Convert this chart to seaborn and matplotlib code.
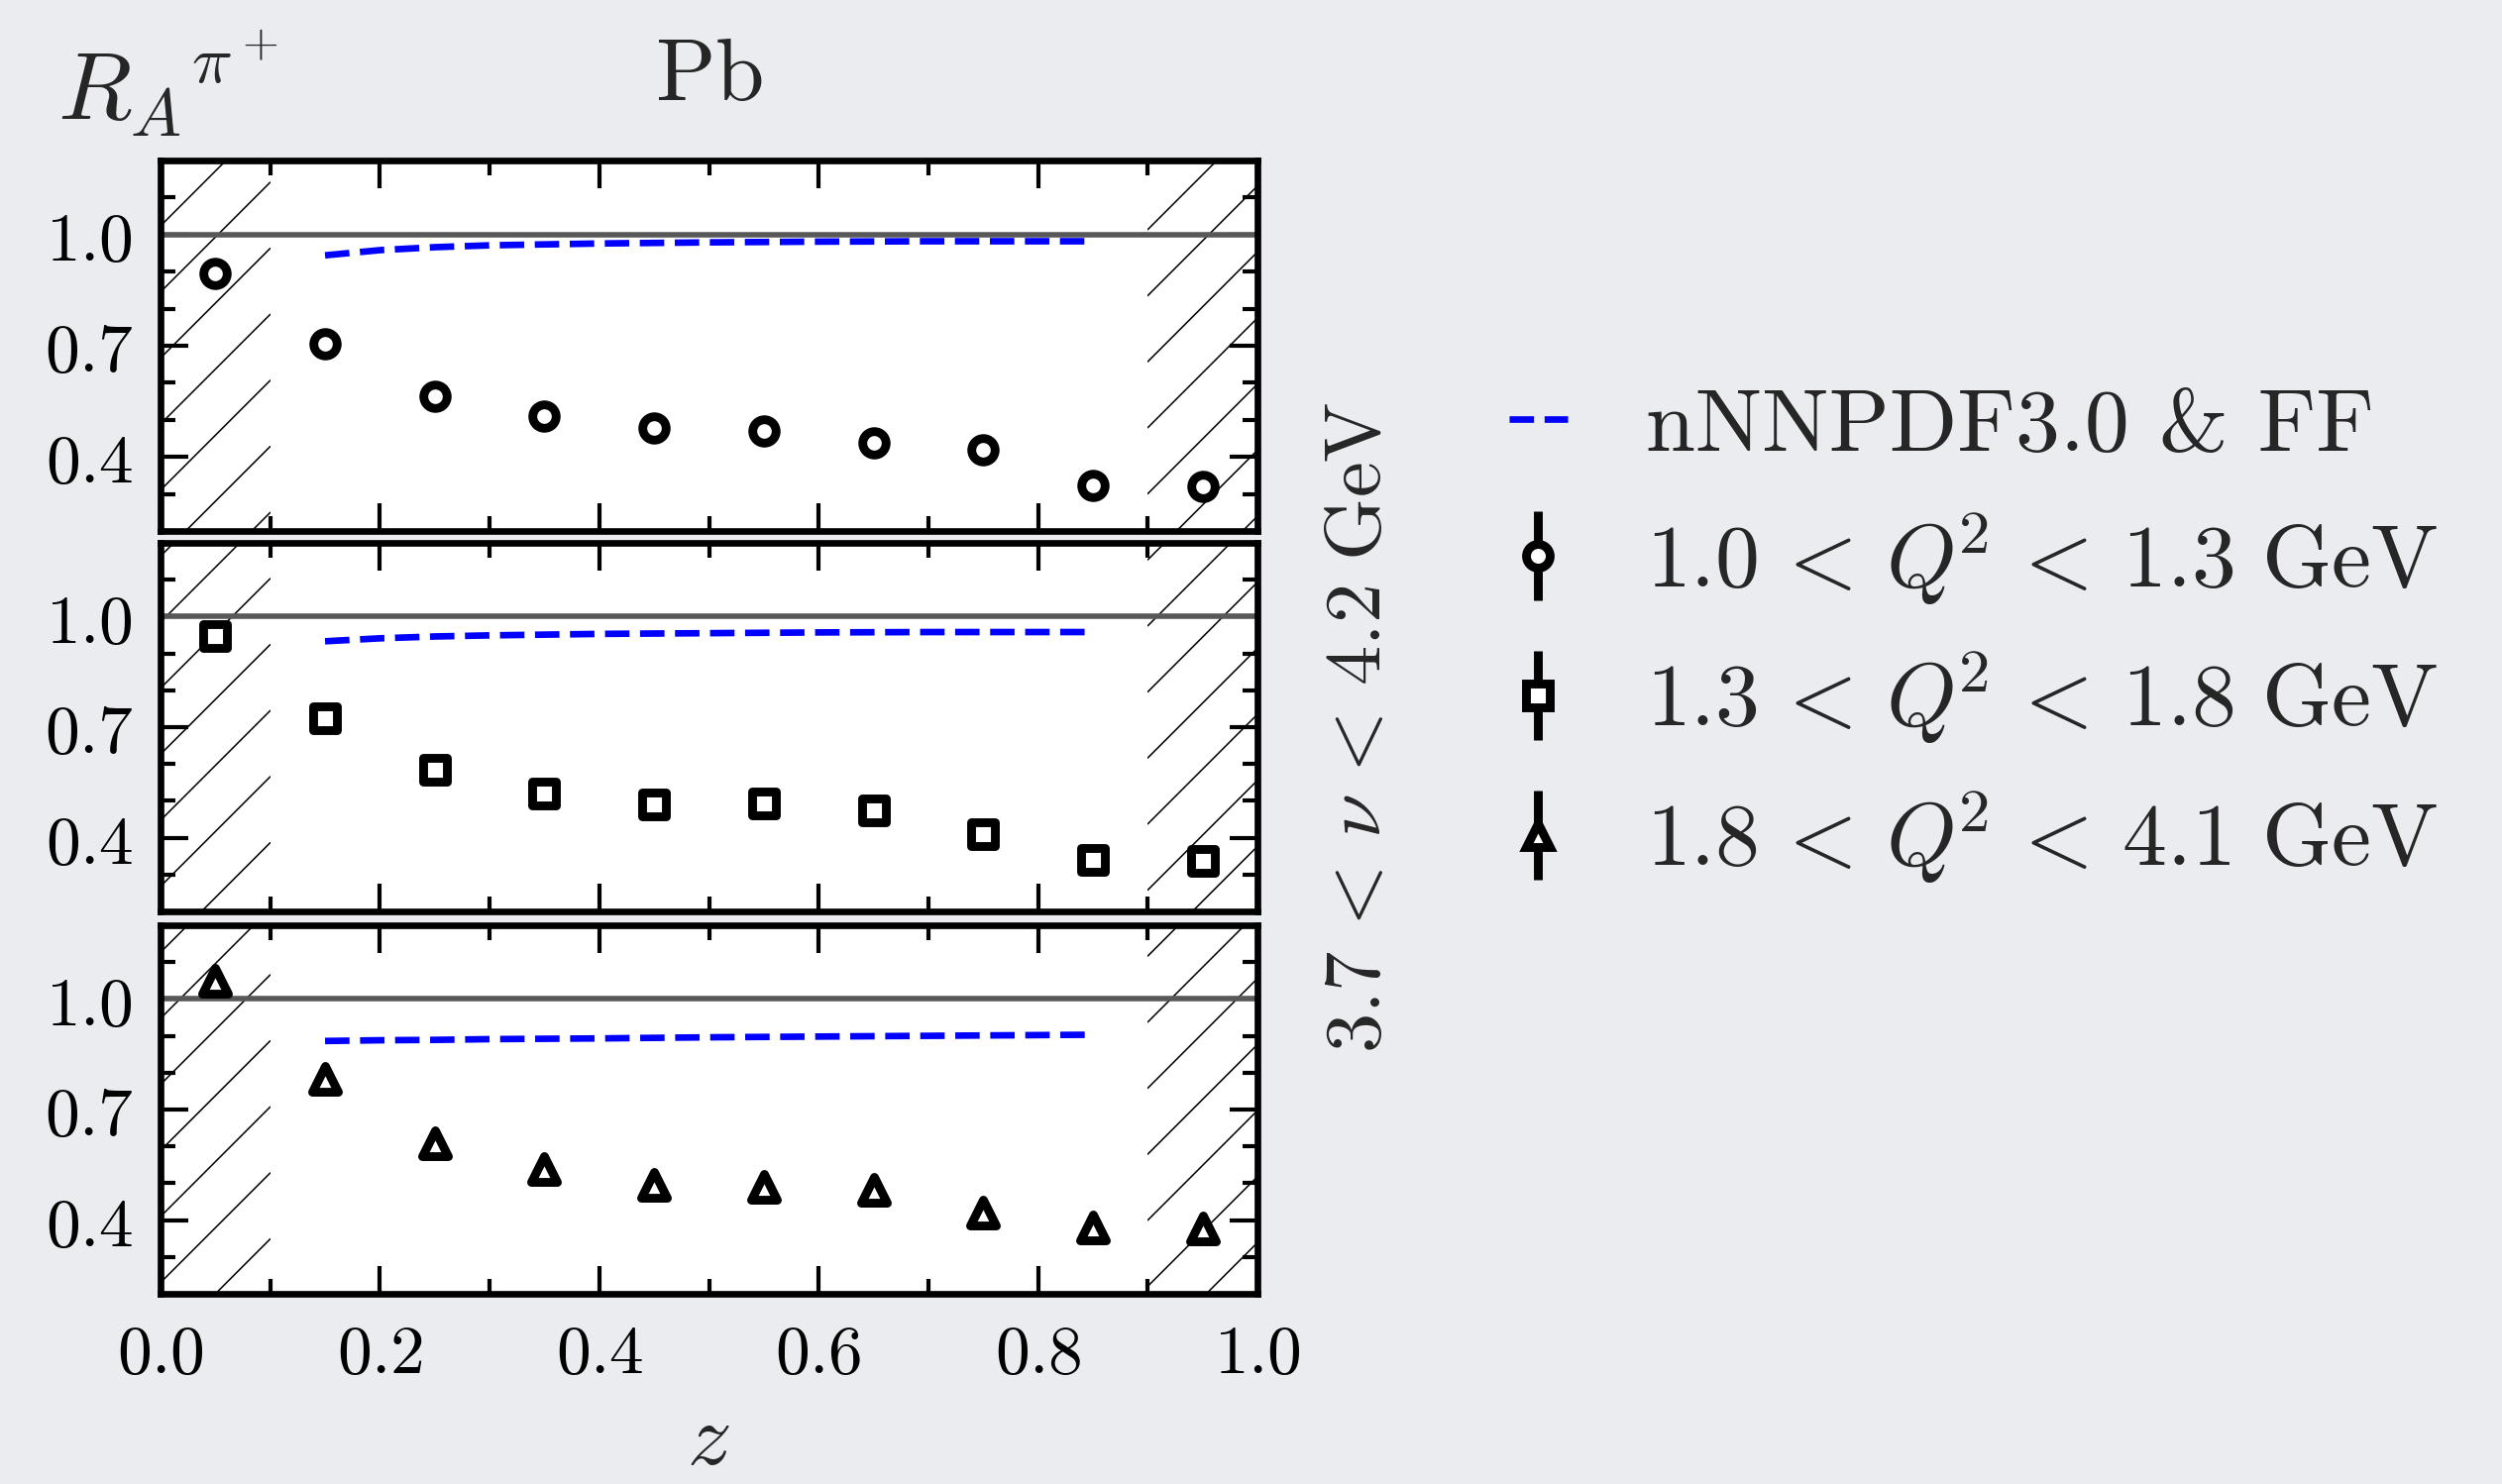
import math
import numpy as np
import pandas as pd
import matplotlib
matplotlib.use("Agg")
import matplotlib.pyplot as plt
import seaborn as sns
from matplotlib.lines import Line2D
from matplotlib.patches import Rectangle
from matplotlib.collections import LineCollection
from matplotlib.container import ErrorbarContainer
from matplotlib.legend_handler import HandlerErrorbar
from matplotlib.ticker import MultipleLocator, FixedLocator, FuncFormatter

# ---- data -------------------------------------------------------------
z_bins = [0.05, 0.15, 0.25, 0.35, 0.45, 0.55, 0.65, 0.75, 0.85, 0.95]
ra_q2_low = [0.894, 0.705, 0.563, 0.510, 0.478, 0.469, 0.438, 0.419, 0.324, 0.320]
ra_q2_mid = [0.946, 0.724, 0.584, 0.521, 0.490, 0.494, 0.474, 0.409, 0.339, 0.337]
ra_q2_high = [1.050, 0.782, 0.609, 0.539, 0.496, 0.489, 0.482, 0.420, 0.380, 0.377]

z_theory = [0.15, 0.20, 0.25, 0.30, 0.40, 0.50, 0.60, 0.70, 0.80, 0.85]
th_q2_low = [0.944, 0.958, 0.966, 0.971, 0.976, 0.979, 0.981, 0.982, 0.982, 0.982]
th_q2_mid = [0.933, 0.941, 0.946, 0.949, 0.953, 0.955, 0.957, 0.958, 0.958, 0.958]
th_q2_high = [0.886, 0.888, 0.889, 0.891, 0.893, 0.896, 0.898, 0.900, 0.902, 0.903]

theory_label = "nNNPDF3.0 & FF"
q2_labels = [r"$1.0\,<\,Q^{\!2}\,<\,1.3\ \mathrm{GeV}$",
             r"$1.3\,<\,Q^{\!2}\,<\,1.8\ \mathrm{GeV}$",
             r"$1.8\,<\,Q^{\!2}\,<\,4.1\ \mathrm{GeV}$"]
nu_label = r"$3.7\,<\,\nu\,<\,4.2\ \mathrm{GeV}$"
markers = ["o", "s", "^"]
x_ticks = [0.0, 0.2, 0.4, 0.6, 0.8, 1.0]
y_ticks = [0.4, 0.7, 1.0]
excluded_z = [(0.0, 0.1), (0.9, 1.0)]

# ---- style ------------------------------------------------------------
sns.set_theme(style="ticks")
bg = "#EAECEF"
plt.rcParams.update({
    "mathtext.fontset": "cm",
    "font.family": ["DejaVu Serif"],
    "axes.linewidth": 1.2,
    "axes.edgecolor": "black",
    "axes.facecolor": "white",
    "figure.facecolor": bg,
    "xtick.direction": "in", "ytick.direction": "in",
    "xtick.top": True, "ytick.right": True,
    "xtick.major.size": 5.0, "ytick.major.size": 5.0,
    "xtick.minor.size": 2.7, "ytick.minor.size": 2.7,
    "xtick.major.width": 0.75, "ytick.major.width": 0.75,
    "xtick.minor.width": 0.75, "ytick.minor.width": 0.75,
    "xtick.color": "black", "ytick.color": "black",
    "xtick.major.pad": 5, "ytick.major.pad": 5,
})

DPI = 400
W, H = 2525.0, 1498.0
fig = plt.figure(figsize=(W / DPI, H / DPI), dpi=DPI)

left, right = 162 / W, 1269 / W
panel_px = [(162, 536), (548, 920), (934, 1306)]
axes = [fig.add_axes([left, 1 - b / H, right - left, (b - t) / H]) for t, b in panel_px]

series = [ra_q2_low, ra_q2_mid, ra_q2_high]
theory = [th_q2_low, th_q2_mid, th_q2_high]
fmt = FuncFormatter(lambda v, pos: rf"${v:.1f}$")

HATCH_STEP = DPI / 6.0   # pixel spacing of the diagonal hatch lines
HATCH_PHASE = 56.7       # fixes the pattern to the canvas


def hatch_band(ax, lo, hi):
    """Thin 45-degree lines filling the excluded z band [lo, hi]."""
    y_lo, y_hi = ax.get_ylim()
    tr = ax.transData
    x0, yb = tr.transform((lo, y_lo))
    x1, yt = tr.transform((hi, y_hi))
    cmin, cmax = x0 + H - yt, x1 + H - yb
    k0 = math.ceil((cmin - HATCH_PHASE) / HATCH_STEP)
    k1 = math.floor((cmax - HATCH_PHASE) / HATCH_STEP)
    clip = Rectangle((lo, y_lo), hi - lo, y_hi - y_lo, transform=ax.transData)
    inv = tr.inverted()
    for k in range(k0, k1 + 1):
        c = HATCH_PHASE + k * HATCH_STEP
        pts = inv.transform([(x0, x0 + H - c), (x1, x1 + H - c)])
        ln, = ax.plot(pts[:, 0], pts[:, 1], color="black", lw=0.28, zorder=1)
        ln.set_clip_path(clip)


for i, ax in enumerate(axes):
    ax.set_xlim(0.0, 1.0)
    ax.set_ylim(0.2, 1.2)
    for lo, hi in excluded_z:
        hatch_band(ax, lo, hi)
    ax.axhline(1.0, color="#585858", lw=1.0, zorder=2)

    sns.lineplot(x=z_theory, y=theory[i], ax=ax, color="#0000FF",
                 linestyle="--", lw=1.2, zorder=3)
    sns.scatterplot(x=z_bins, y=series[i], ax=ax, marker=markers[i],
                    s=18 if markers[i] != "^" else 22,
                    color="white", edgecolor="black", linewidth=1.6,
                    zorder=5, clip_on=False)

    ax.set_xlim(0.0, 1.0)
    ax.set_ylim(0.2, 1.2)
    ax.xaxis.set_major_locator(FixedLocator(x_ticks))
    ax.xaxis.set_minor_locator(MultipleLocator(0.1))
    ax.yaxis.set_major_locator(FixedLocator(y_ticks))
    ax.yaxis.set_minor_locator(MultipleLocator(0.1))
    ax.yaxis.set_major_formatter(fmt)
    ax.tick_params(axis="both", which="major", labelsize=12.5)
    ax.set_xlabel("")
    ax.set_ylabel("")
    for sp in ax.spines.values():
        sp.set_visible(True)
        sp.set_zorder(6)
    if i < 2:
        ax.tick_params(axis="x", labelbottom=False)
    else:
        ax.xaxis.set_major_formatter(fmt)

axes[0].set_title(r"$\mathrm{Pb}$", fontsize=16, pad=11)
fig.text(58 / W, 1 - 121 / H, r"$R_A{}^{\pi^+}$", fontsize=17.5,
         ha="left", va="baseline")
fig.text(715 / W, 1 - 1497 / H, r"$z$", fontsize=16, ha="center", va="bottom")
fig.text(1371 / W, 1 - 734 / H, nu_label,
         fontsize=14.5, rotation=90, ha="center", va="center")

# ---- legend -----------------------------------------------------------
handles = [Line2D([], [], color="#0000FF", linestyle="--", lw=1.2)]
for m in markers:
    mk = Line2D([], [], marker=m, ms=4.3, mfc="white", mec="black", mew=1.6,
                ls="none", color="black")
    bars = LineCollection([], colors="black", linewidths=1.6)
    handles.append(ErrorbarContainer((mk, (), (bars,)), has_xerr=False, has_yerr=True))
labels = [theory_label] + q2_labels

fig.legend(handles, labels, loc="center left",
           bbox_to_anchor=(1523 / W, 1 - 643 / H),
           frameon=False, prop={"family": "cmr10", "size": 16.2}, numpoints=1,
           handlelength=0.65, handletextpad=0.88, labelspacing=0.48,
           borderpad=0, borderaxespad=0,
           handler_map={ErrorbarContainer: HandlerErrorbar(xerr_size=0.5, yerr_size=0.5)})

fig.savefig("out.png", dpi=DPI, facecolor=bg)
